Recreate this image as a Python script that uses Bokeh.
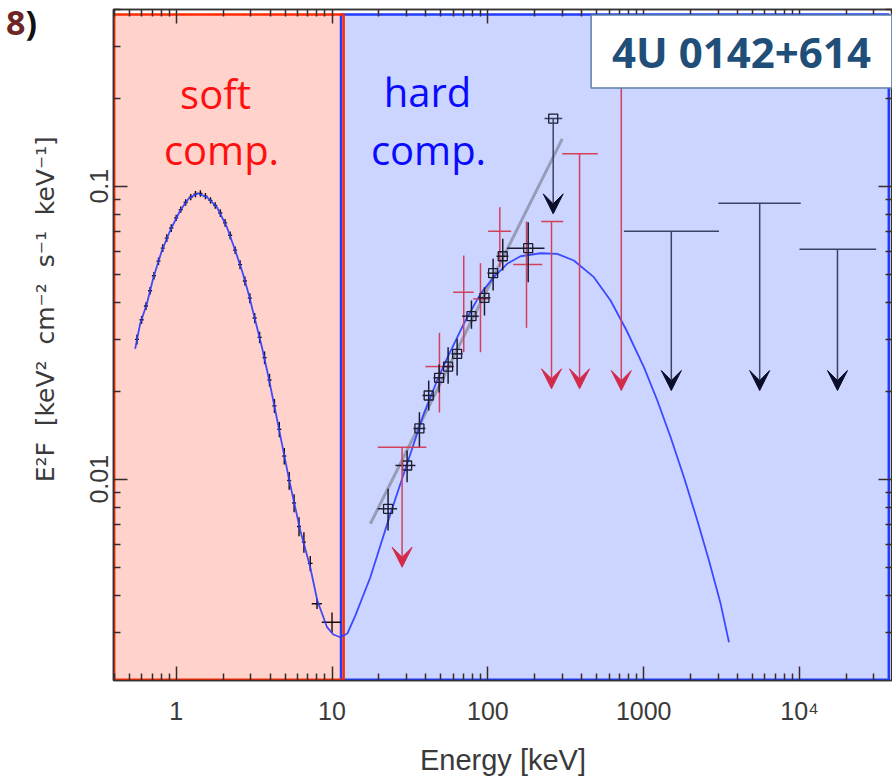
from bokeh.plotting import figure
from bokeh.models import (ColumnDataSource, Range1d, LogAxis, FixedTicker, Label,
                          Arrow, VeeHead, CustomJSTickFormatter, Div)
from bokeh.layouts import column
from bokeh.embed import file_html
from bokeh.resources import INLINE

# ---------------- data ----------------
soft_E = [0.56, 0.60, 0.64, 0.68, 0.72, 0.77, 0.82, 0.87, 0.93, 1.00, 1.07, 1.15, 1.24,
          1.33, 1.43, 1.54, 1.66, 1.78, 1.92, 2.06, 2.22, 2.39, 2.57, 2.76, 2.97, 3.19,
          3.43, 3.69, 3.97, 4.27, 4.59, 4.94, 5.31, 5.71, 6.14, 6.60, 7.25, 8.01, 10.0]
soft_F = [0.0300, 0.0350, 0.0390, 0.0440, 0.0495, 0.0555, 0.0615, 0.0665, 0.0720, 0.0780,
          0.0832, 0.0880, 0.0918, 0.0940, 0.0945, 0.0925, 0.0895, 0.0860, 0.0810, 0.0750,
          0.0680, 0.0605, 0.0540, 0.0475, 0.0415, 0.0355, 0.0305, 0.0260, 0.0218, 0.0178,
          0.0148, 0.0120, 0.0099, 0.0083, 0.0069, 0.0061, 0.00516, 0.00376, 0.00325]
soft_F_relerr = [0.04, 0.03, 0.03, 0.03, 0.03, 0.03, 0.03, 0.03, 0.03, 0.025, 0.025, 0.025,
                 0.025, 0.025, 0.025, 0.025, 0.025, 0.025, 0.03, 0.03, 0.03, 0.03, 0.035,
                 0.035, 0.04, 0.04, 0.045, 0.05, 0.05, 0.055, 0.06, 0.065, 0.07, 0.07, 0.075,
                 0.08, 0.06, 0.04, 0.08]
soft_E_relerr = [0.03, 0.03, 0.03, 0.03, 0.03, 0.03, 0.03, 0.03, 0.03, 0.03, 0.03, 0.03,
                 0.03, 0.03, 0.03, 0.03, 0.03, 0.03, 0.03, 0.03, 0.03, 0.03, 0.03, 0.03,
                 0.03, 0.03, 0.03, 0.03, 0.03, 0.03, 0.03, 0.03, 0.03, 0.03, 0.03, 0.03,
                 0.035, 0.075, 0.14]

model_E = [0.5454, 0.5871, 0.6483, 0.7148, 0.8095, 0.9151, 1.061, 1.200, 1.370, 1.575,
           1.826, 2.117, 2.393, 2.642, 2.913, 3.217, 3.551, 3.915, 4.324, 4.773, 5.264,
           6.256, 7.253, 8.045, 9.288, 10.19, 11.31, 12.54, 14.11, 17.62, 23.69, 30.32,
           38.75, 47.25, 55.02, 70.02, 89.66, 109.1, 133.0, 162.0, 217.7, 278.7, 356.2,
           478.9, 612.9, 776.7, 1003, 1223, 1489, 1813, 2209, 2623, 3118, 3526]
model_F = [0.02786, 0.03392, 0.03968, 0.04893, 0.06032, 0.07061, 0.08262, 0.09057, 0.09465,
           0.09174, 0.08478, 0.07246, 0.06032, 0.05158, 0.04293, 0.03480, 0.02821, 0.02229,
           0.01716, 0.01320, 0.01016, 0.006683, 0.004995, 0.003855, 0.003126, 0.002951,
           0.002889, 0.002974, 0.003425, 0.004628, 0.007617, 0.01129, 0.01671, 0.02172,
           0.02602, 0.03392, 0.04293, 0.04893, 0.05435, 0.05768, 0.05905, 0.05877, 0.05577,
           0.04893, 0.04073, 0.03218, 0.02412, 0.01856, 0.01391, 0.01016, 0.007227,
           0.005279, 0.003756, 0.002778]

pl_E = [17.62, 300.1]
pl_F = [0.007045, 0.1451]

sq_E = [22.89, 30.32, 36.37, 41.72, 48.66, 55.59, 63.5, 78.47, 95.1, 108.1, 124.6, 181.5]
sq_F = [0.007925, 0.01114, 0.0149, 0.01931, 0.02219, 0.02424, 0.02679, 0.036, 0.0416,
        0.05049, 0.05768, 0.06143]
sq_E_lo = [19.63, 25.51, 33.29, 38.02, 44.74, 51.1, 58.38, 68.39, 87.0, 99.4, 113.6, 133.0]
sq_E_hi = [26.16, 34.28, 39.73, 45.4, 52.63, 60.12, 68.7, 87.4, 103.9, 117.0, 135.6, 230.9]
sq_F_lo = [0.006683, 0.009768, 0.01286, 0.01716, 0.01976, 0.02116, 0.02259, 0.03261,
           0.0362, 0.04406, 0.05158, 0.04704]
sq_F_hi = [0.009273, 0.01253, 0.01693, 0.02172, 0.02463, 0.02821, 0.03014, 0.04073,
           0.04521, 0.05651, 0.06614, 0.07535]
sq_ul_E = [262.6]
sq_ul_F = [0.1702]
sq_ul_E_lo = [230.9]
sq_ul_E_hi = [300.1]
sq_ul_tip = [0.08049]

red_E = [48.9, 70.02, 89.66, 119.3, 177.0]
red_F = [0.02424, 0.04346, 0.04127, 0.07022, 0.05405]
red_E_lo = [39.73, 59.87, 80.46, 100.4, 145.4]
red_E_hi = [60.39, 81.18, 101.3, 141.1, 223.2]
red_F_lo = [0.01689, 0.02713, 0.02713, 0.05291, 0.03286]
red_F_hi = [0.0316, 0.058, 0.0546, 0.08478, 0.07576]
red_ul_E = [28.16, 256.1, 387.6, 718.0]
red_ul_F = [0.01286, 0.07576, 0.129, 0.2685]
red_ul_E_lo = [19.63, 220.0, 300.1, 507.9]
red_ul_E_hi = [40.33, 304.6, 507.9, 1029]
red_ul_tip = [0.005008, 0.02035, 0.02035, 0.02008]

nv_ul_E = [1504, 5551, 17520]
nv_ul_F = [0.07022, 0.0875, 0.06096]
nv_ul_E_lo = [746.2, 3014, 9987]
nv_ul_E_hi = [3041, 10180, 31000]
nv_ul_tip = [0.02008, 0.02008, 0.02008]

soft_band = [0.40, 11.87]
hard_band = [11.42, 37400]
band_top = 0.3855
band_bottom = 0.00207

x_ticks = [1, 10, 100, 1000, 10000]
y_ticks = [0.01, 0.1]

# ---------------- figure ----------------
p = figure(width=892, height=779, x_axis_type="log", y_axis_type="log",
           x_range=Range1d(0.396, 39500), y_range=Range1d(0.002056, 0.401),
           output_backend="svg", toolbar_location=None,
           min_border_left=113, min_border_right=0, min_border_top=9,
           min_border_bottom=99)
p.background_fill_color = "white"
p.border_fill_color = "white"
p.outline_line_color = "#333333"
p.outline_line_width = 1.5
p.xgrid.visible = False
p.ygrid.visible = False

p.quad(left=[soft_band[0]], right=[soft_band[1]], bottom=[band_bottom], top=[band_top],
       fill_color="#FFD2CC", line_color=None)
p.quad(left=[hard_band[0]], right=[hard_band[1]], bottom=[band_bottom], top=[band_top],
       fill_color="#CCD5FF", line_color="#1f3cff", line_width=2.5)
p.quad(left=[soft_band[0]], right=[soft_band[1]], bottom=[band_bottom], top=[band_top],
       fill_color=None, line_color="#ff2a00", line_width=2.5)

s_src = ColumnDataSource(dict(
    x=soft_E, y=soft_F,
    ylo=[f * (1 - e) for f, e in zip(soft_F, soft_F_relerr)],
    yhi=[f * (1 + e) for f, e in zip(soft_F, soft_F_relerr)],
    xlo=[x * (1 - e) for x, e in zip(soft_E, soft_E_relerr)],
    xhi=[x * (1 + e) for x, e in zip(soft_E, soft_E_relerr)]))
p.segment(x0="x", y0="ylo", x1="x", y1="yhi", source=s_src, line_color="#1a0a0a", line_width=1.4)
p.segment(x0="xlo", y0="y", x1="xhi", y1="y", source=s_src, line_color="#1a0a0a", line_width=1.4)

p.line(pl_E, pl_F, line_color="#8d92aa", line_width=3, line_alpha=0.85)
p.line(model_E, model_F, line_color="#2a3cff", line_width=1.8, line_alpha=0.9)

r_src = ColumnDataSource(dict(x=red_E, y=red_F, xlo=red_E_lo, xhi=red_E_hi,
                              ylo=red_F_lo, yhi=red_F_hi))
p.segment(x0="x", y0="ylo", x1="x", y1="yhi", source=r_src, line_color="#d3405c", line_width=1.5)
p.segment(x0="xlo", y0="y", x1="xhi", y1="y", source=r_src, line_color="#d3405c", line_width=1.5)

b_src = ColumnDataSource(dict(x=sq_E, y=sq_F, xlo=sq_E_lo, xhi=sq_E_hi,
                              ylo=sq_F_lo, yhi=sq_F_hi))
p.segment(x0="x", y0="ylo", x1="x", y1="yhi", source=b_src, line_color="#1c1c30", line_width=1.5)
p.segment(x0="xlo", y0="y", x1="xhi", y1="y", source=b_src, line_color="#1c1c30", line_width=1.5)
p.scatter("x", "y", source=b_src, marker="square", size=9, fill_color=None,
          line_color="#1c1c30", line_width=1.3)

ru_src = ColumnDataSource(dict(x=red_ul_E, y=red_ul_F, xlo=red_ul_E_lo, xhi=red_ul_E_hi,
                               tip=red_ul_tip))
p.segment(x0="xlo", y0="y", x1="xhi", y1="y", source=ru_src, line_color="#d3405c", line_width=1.5)
p.add_layout(Arrow(source=ru_src, x_start="x", y_start="y", x_end="x", y_end="tip",
                   line_color="#d3405c", line_width=1.5,
                   end=VeeHead(size=20, fill_color="#d42a4a", line_color="#d42a4a")))

nu_src = ColumnDataSource(dict(x=nv_ul_E + sq_ul_E, y=nv_ul_F + sq_ul_F,
                               xlo=nv_ul_E_lo + sq_ul_E_lo, xhi=nv_ul_E_hi + sq_ul_E_hi,
                               tip=nv_ul_tip + sq_ul_tip))
p.segment(x0="xlo", y0="y", x1="xhi", y1="y", source=nu_src, line_color="#3a4266", line_width=1.5)
p.add_layout(Arrow(source=nu_src, x_start="x", y_start="y", x_end="x", y_end="tip",
                   line_color="#3a4266", line_width=1.5,
                   end=VeeHead(size=20, fill_color="#0a0c2a", line_color="#0a0c2a")))
p.scatter(sq_ul_E, sq_ul_F, marker="square", size=9, fill_color=None,
          line_color="#1c1c30", line_width=1.3)

# ---------------- axes ----------------
minor_x = [d * k for d in [0.1, 1, 10, 100, 1000, 10000] for k in range(2, 10)]
minor_y = [d * k for d in [0.001, 0.01, 0.1] for k in range(2, 10)]

def style(ax):
    ax.axis_line_color = "#333333"
    ax.axis_line_width = 1.5
    ax.major_tick_in = 14
    ax.major_tick_out = 0
    ax.minor_tick_in = 7
    ax.minor_tick_out = 0
    ax.major_tick_line_color = "#3a2a2a"
    ax.minor_tick_line_color = "#3a2a2a"
    ax.major_tick_line_width = 1.5
    ax.minor_tick_line_width = 1.5

xa = p.xaxis[0]
xa.ticker = FixedTicker(ticks=x_ticks, minor_ticks=minor_x)
xa.formatter = CustomJSTickFormatter(code="return tick >= 9999 ? '10\u2074' : String(tick);")
style(xa)
xa.major_label_text_font = "Liberation Sans"
xa.major_label_text_font_size = "25px"
xa.major_label_text_color = "#3a3a3a"
xa.major_label_standoff = 16
xa.axis_label = "Energy [keV]"
xa.axis_label_text_font = "Liberation Sans"
xa.axis_label_text_font_size = "29px"
xa.axis_label_text_font_style = "normal"
xa.axis_label_text_color = "#3a3a3a"
xa.axis_label_standoff = 16

NB = "\u00a0"
ya = p.yaxis[0]
ya.ticker = FixedTicker(ticks=y_ticks, minor_ticks=minor_y)
ya.formatter = CustomJSTickFormatter(code="return String(tick);")
style(ya)
ya.major_label_orientation = "vertical"
ya.major_label_text_font = "Liberation Sans"
ya.major_label_text_font_size = "25px"
ya.major_label_text_color = "#3a3a3a"
ya.major_label_standoff = 5
ya.axis_label = (NB * 9 + "E\u00b2F" + NB * 2 + "[keV\u00b2" + NB * 2 + "cm\u207b\u00b2" + NB * 2 +
                 "s\u207b\u00b9" + NB * 2 + "keV\u207b\u00b9]")
ya.axis_label_text_font = "DejaVu Sans"
ya.axis_label_text_font_size = "25px"
ya.axis_label_text_font_style = "normal"
ya.axis_label_text_color = "#3a3a3a"
ya.axis_label_standoff = 28

top_ax = LogAxis(ticker=FixedTicker(ticks=x_ticks, minor_ticks=minor_x),
                 major_label_text_font_size="1px", major_label_text_alpha=0,
                 major_label_standoff=0)
style(top_ax)
p.add_layout(top_ax, "above")
right_ax = LogAxis(ticker=FixedTicker(ticks=y_ticks, minor_ticks=minor_y),
                   major_label_text_font_size="1px", major_label_text_alpha=0,
                   major_label_standoff=0)
style(right_ax)
p.add_layout(right_ax, "right")

# ---------------- annotations ----------------
def txt(x, y, s, color, size="40px", style_="normal", align="center", baseline="alphabetic"):
    return Label(x=x, y=y, x_units="screen", y_units="screen", text=s,
                 text_font="Open Sans", text_font_size=size, text_font_style=style_,
                 text_color=color, text_align=align, text_baseline=baseline)

p.add_layout(txt(102, 587, "soft", "#ff1010"))
p.add_layout(txt(108, 531, "comp.", "#ff1010"))
p.add_layout(txt(314, 589, "hard", "#0a0aff"))
p.add_layout(txt(315, 531, "comp.", "#0a0aff"))

box = Label(x=628, y=629, x_units="screen", y_units="screen", text="4U 0142+614",
            text_font="Open Sans", text_font_style="bold", text_font_size="42px",
            text_color="#1f4e79", text_align="center", text_baseline="middle",
            background_fill_color="white", border_line_color="#5b7fa6",
            border_line_width=1.5, padding=(21, 8))
p.add_layout(box)

# panel tag "8)" in the top-left margin (HTML overlay)
tag = Div(text=('<span style="font-family:\'Open Sans\';font-weight:bold;font-size:34px;'
                'line-height:34px;color:#6e2626">8</span>'
                '<span style="font-family:\'Open Sans\';font-weight:bold;font-size:34px;'
                'line-height:34px;color:#111111">)</span>'),
          width=40, height=36,
          styles={"position": "absolute", "left": "1px", "top": "0px", "z-index": "10"})

page = column(p, tag, spacing=0)

open("out.html", "w").write(file_html(page, INLINE))
